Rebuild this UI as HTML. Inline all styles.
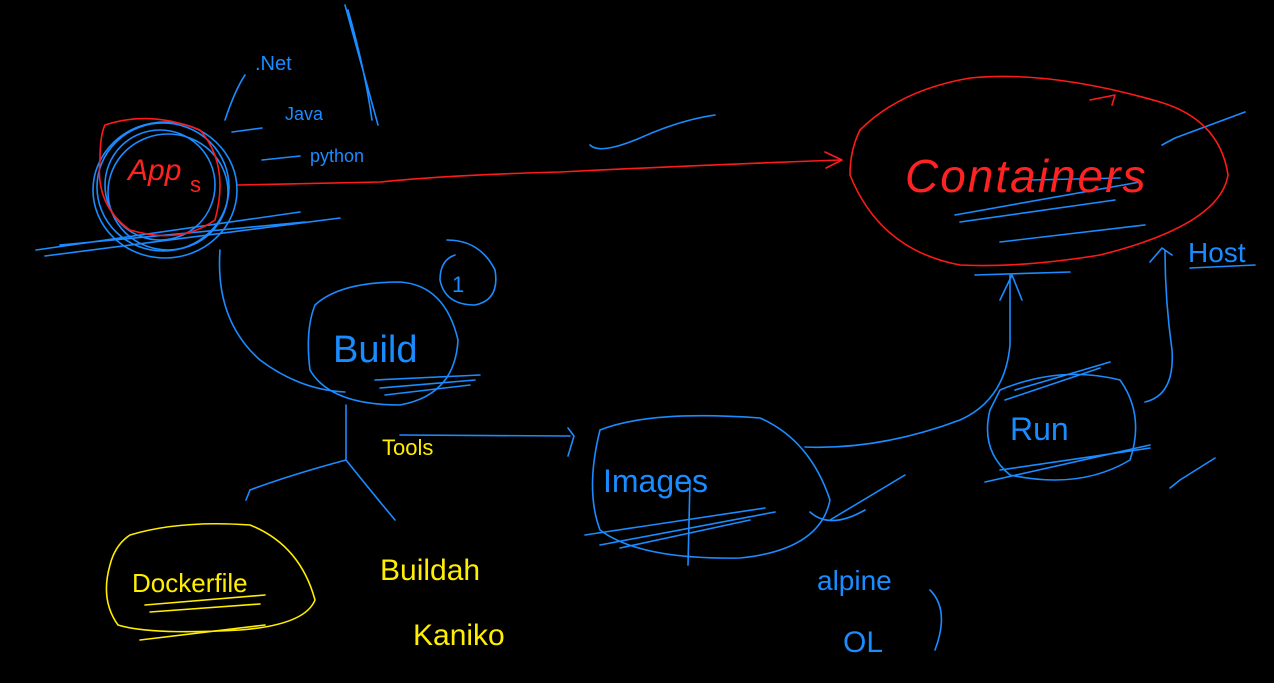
<!DOCTYPE html>
<html><head><meta charset="utf-8"><style>
html,body{margin:0;padding:0;background:#000;width:1274px;height:683px;overflow:hidden}
svg{display:block}
text{font-family:"Liberation Sans",sans-serif}
</style></head><body>
<svg width="1274" height="683" viewBox="0 0 1274 683" fill="none" stroke-linecap="round" stroke-linejoin="round">
<g stroke="#1a8cff" stroke-width="1.6">
<!-- Apps circles -->
<ellipse cx="165" cy="190" rx="72" ry="68"/>
<ellipse cx="163" cy="187" rx="66" ry="64"/>
<ellipse cx="168" cy="192" rx="60" ry="58"/>
<ellipse cx="160" cy="185" rx="55" ry="55"/>
<path d="M36 250 L300 212 M45 256 L340 218 M60 245 L305 222"/>
<!-- list -->
<path d="M225 120 Q235 90 245 75 M232 132 L262 128 M262 160 L300 156 M345 5 Q360 60 378 125 M348 10 Q365 70 372 120"/>
<path d="M590 145 Q600 155 640 138 Q680 120 715 115"/>
<!-- Apps to Build -->
<path d="M220 250 Q215 320 260 360 Q300 390 345 392"/>
<!-- Build -->
<path d="M315 305 Q340 282 400 282 Q445 285 458 340 Q455 395 400 405 Q330 405 310 370 Q305 330 315 305Z"/>
<path d="M375 380 L480 375 M380 388 L475 380 M385 395 L470 385"/>
<path d="M447 240 Q480 240 495 270 Q500 300 475 305 Q445 305 440 280 Q440 260 455 255"/>
<!-- tools tree -->
<path d="M346 405 L346 460 M346 460 Q290 475 250 490 M250 490 L246 500 M346 460 Q370 490 395 520"/>
<path d="M400 435 L570 436 M568 428 L574 436 L568 456"/>
<!-- Images -->
<path d="M600 430 Q650 410 760 418 Q810 440 830 500 Q820 550 740 558 Q640 560 600 530 Q585 490 600 430Z"/>
<path d="M585 535 L765 508 M600 545 L775 512 M620 548 L750 520 M690 480 L688 565"/>
<path d="M810 512 Q830 530 865 510 M830 520 L905 475"/>
<path d="M805 447 Q880 450 960 420 Q1005 400 1010 345 L1010 275 M1000 300 L1012 275 L1022 300 M975 275 L1070 272"/>
<!-- Run -->
<path d="M1000 390 Q1060 365 1120 380 Q1145 415 1130 460 Q1080 490 1010 475 Q980 450 990 410Z"/>
<path d="M985 482 L1150 445 M1000 470 L1150 448 M1015 390 L1110 362 M1005 400 L1100 368"/>
<path d="M1145 402 Q1175 395 1172 350 Q1165 300 1165 250 M1150 262 L1162 248 L1172 255"/>
<path d="M1170 488 L1180 480 L1215 458"/>
<path d="M1162 145 L1175 138 L1245 112"/>
<path d="M955 215 L1140 182 M960 222 L1115 200 M1000 242 L1145 225 M1030 180 L1120 178"/>
<path d="M930 590 Q950 610 935 650"/>
<path d="M1190 268 L1255 265"/>
</g>
<g stroke="#ff1a1a" stroke-width="1.6">
<path d="M105 125 Q150 110 200 130 Q230 165 215 220 Q180 245 130 230 Q95 205 100 160 Q100 135 105 125Z"/>
<path d="M238 185 L380 182 Q450 175 560 172 Q700 165 840 160 M825 152 L842 160 L826 168"/>
<path d="M860 130 Q900 90 970 78 Q1050 70 1160 102 Q1220 120 1228 175 Q1220 225 1100 255 Q1020 268 960 265 Q880 250 850 175 Q850 150 860 130Z"/>
<path d="M1090 100 L1115 95 L1112 105"/>
</g>
<g stroke="#ffee00" stroke-width="1.6">
<path d="M130 535 Q180 520 250 525 Q300 545 315 600 Q305 625 240 630 Q150 635 118 625 Q100 600 110 565 Q115 545 130 535Z"/>
<path d="M145 605 L265 595 M150 612 L260 604 M140 640 L265 625"/>
</g>
<text x="128" y="180" fill="#ff2222" font-size="30" font-style="italic">App</text>
<text x="190" y="192" fill="#ff2222" font-size="22">s</text>
<text x="905" y="192" fill="#ff2222" font-size="46" font-style="italic" letter-spacing="2">Containers</text>
<text x="255" y="70" fill="#1a8cff" font-size="20">.Net</text>
<text x="285" y="120" fill="#1a8cff" font-size="18">Java</text>
<text x="310" y="162" fill="#1a8cff" font-size="18">python</text>
<text x="333" y="362" fill="#1a8cff" font-size="38">Build</text>
<text x="452" y="292" fill="#1a8cff" font-size="22">1</text>
<text x="603" y="492" fill="#1a8cff" font-size="32">Images</text>
<text x="1010" y="440" fill="#1a8cff" font-size="32">Run</text>
<text x="1188" y="262" fill="#1a8cff" font-size="28">Host</text>
<text x="817" y="590" fill="#1a8cff" font-size="28">alpine</text>
<text x="843" y="652" fill="#1a8cff" font-size="30">OL</text>
<text x="382" y="455" fill="#ffee00" font-size="22">Tools</text>
<text x="132" y="592" fill="#ffee00" font-size="26">Dockerfile</text>
<text x="380" y="580" fill="#ffee00" font-size="30">Buildah</text>
<text x="413" y="645" fill="#ffee00" font-size="30">Kaniko</text>
</svg>
</body></html>
